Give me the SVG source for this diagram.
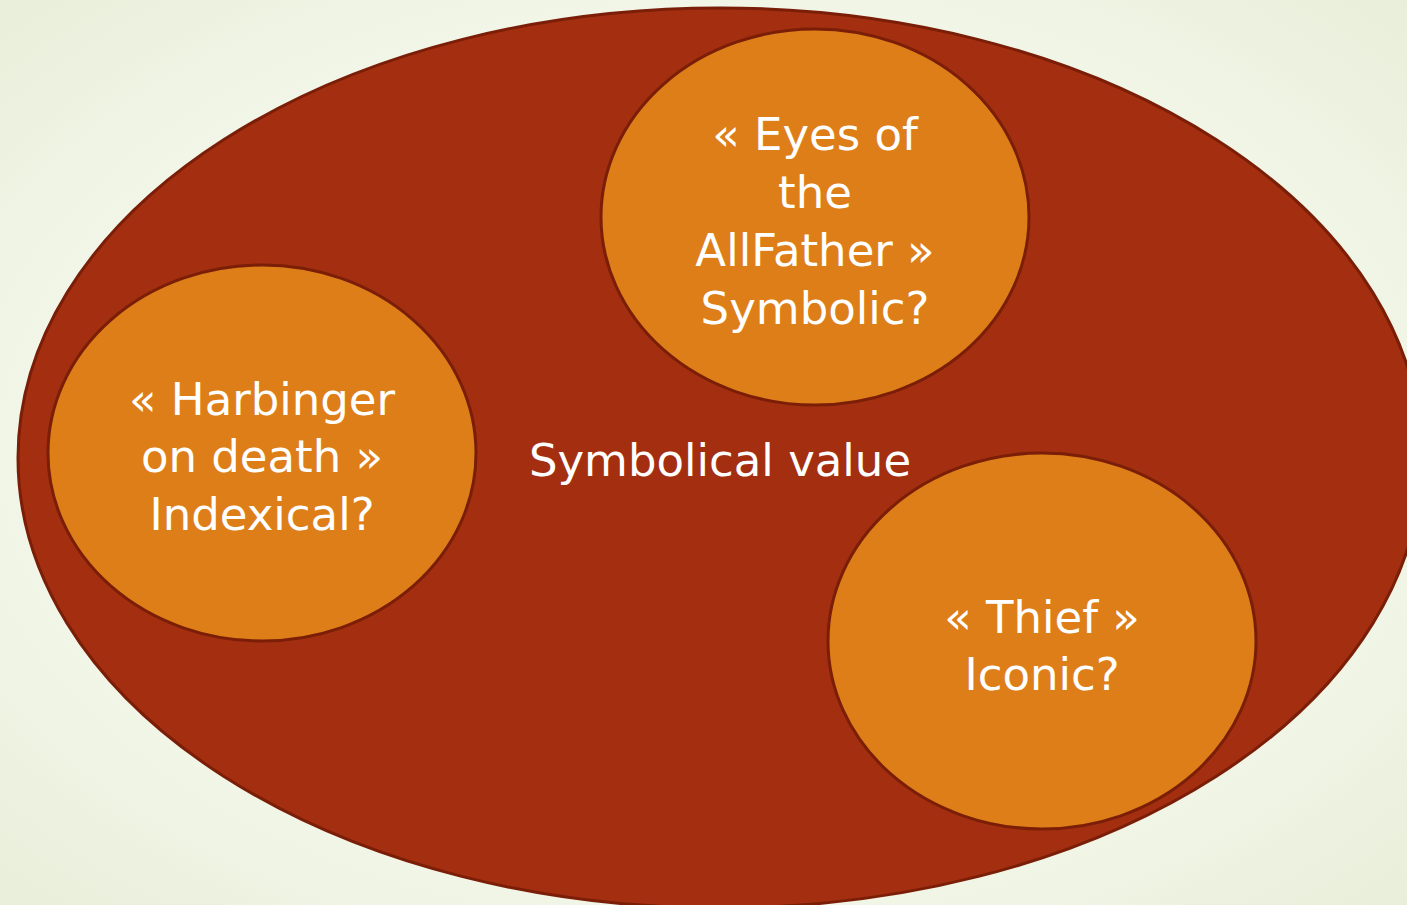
<svg xmlns="http://www.w3.org/2000/svg" width="1407" height="905" viewBox="0 0 1407 905">
<defs>
<radialGradient id="bg" cx="50%" cy="50%" r="75%">
<stop offset="0" stop-color="#f7faf2"/>
<stop offset="0.6" stop-color="#f3f7ea"/>
<stop offset="1" stop-color="#e6edd6"/>
</radialGradient>
</defs>
<style>
.outer{fill:#A42E10;stroke:#7A1E08;stroke-width:3}
.inner{fill:#DE7E19;stroke:#7A1E08;stroke-width:3}
.t{font-family:"DejaVu Sans","Liberation Sans",sans-serif;font-size:45px;fill:#ffffff;text-anchor:middle}
</style>
<rect width="1407" height="905" fill="url(#bg)"/>
<g id="outer">
<ellipse class="outer" cx="720" cy="458" rx="702" ry="450"/>
<text class="t" x="720" y="476">Symbolical value</text>
</g>
<g id="eyes">
<ellipse class="inner" cx="815" cy="217" rx="214" ry="188"/>
<text class="t" x="815" y="150">« Eyes of</text>
<text class="t" x="815" y="208">the</text>
<text class="t" x="815" y="266">AllFather »</text>
<text class="t" x="815" y="324">Symbolic?</text>
</g>
<g id="harbinger">
<ellipse class="inner" cx="262" cy="453" rx="214" ry="188"/>
<text class="t" x="262" y="415">« Harbinger</text>
<text class="t" x="262" y="472">on death »</text>
<text class="t" x="262" y="530">Indexical?</text>
</g>
<g id="thief">
<ellipse class="inner" cx="1042" cy="641" rx="214" ry="188"/>
<text class="t" x="1042" y="633">« Thief »</text>
<text class="t" x="1042" y="690">Iconic?</text>
</g>
<g id="connectors"/>
</svg>
